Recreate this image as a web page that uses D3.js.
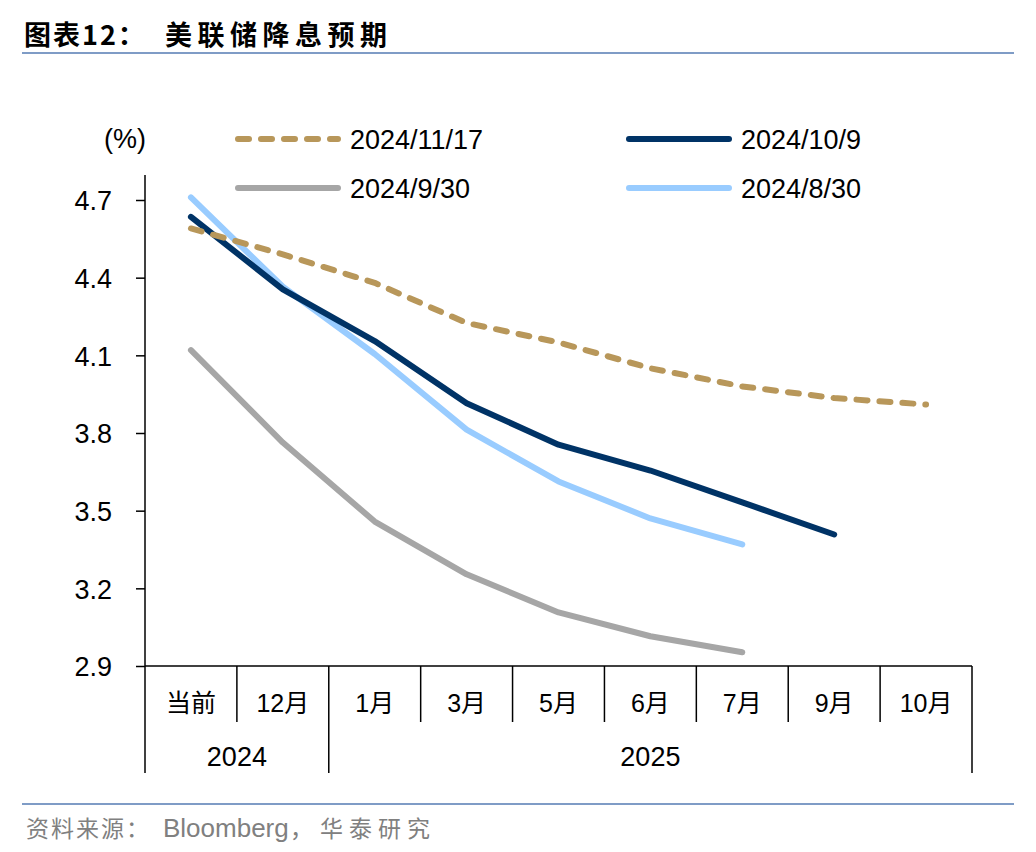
<!DOCTYPE html>
<html><head><meta charset="utf-8">
<script src="https://cdn.jsdelivr.net/npm/d3@7/dist/d3.min.js"></script>
<style>body{margin:0;background:#fff;} svg{display:block;}</style>
</head><body>
<svg id="c" width="1036" height="852"></svg>
<script>
const categories = ["当前","12月","1月","3月","5月","6月","7月","9月","10月"];
const years = [{label:"2024", from:0, to:2},{label:"2025", from:2, to:9}];
const yTicks = [2.9, 3.2, 3.5, 3.8, 4.1, 4.4, 4.7];
const s20241117 = [4.59, 4.49, 4.38, 4.225, 4.15, 4.05, 3.98, 3.935, 3.91];
const s20241009 = [4.635, 4.355, 4.155, 3.915, 3.755, 3.655, 3.532, 3.408];
const s20240930 = [4.12, 3.763, 3.458, 3.254, 3.107, 3.015, 2.953];
const s20240830 = [4.71, 4.365, 4.105, 3.813, 3.613, 3.47, 3.37];
const seriesNames = ["2024/11/17","2024/10/9","2024/9/30","2024/8/30"];

const series = [
  {name: seriesNames[0], values: s20241117, color:"#b8975a", dash:"11,12"},
  {name: seriesNames[1], values: s20241009, color:"#003366", dash:null},
  {name: seriesNames[2], values: s20240930, color:"#a6a6a6", dash:null},
  {name: seriesNames[3], values: s20240830, color:"#99ccff", dash:null}
];

const svg = d3.select("#c");
const L = 145, R = 972, T = 200, B = 666;
const x = d3.scaleBand().domain(categories).range([L, R]);
const y = d3.scaleLinear().domain([2.9, 4.7]).range([B, T]);
const num = "'Liberation Sans', Arial, sans-serif";
const cjk = "'Liberation Sans','Noto Sans CJK SC', sans-serif";
const FS = 27;

// Title
svg.append("text").attr("x", 24).attr("y", 45).attr("font-family", "'Noto Sans CJK SC', sans-serif")
  .attr("font-weight", "bold").attr("font-size", 27).attr("fill", "#000").attr("letter-spacing", 2)
  .text("图表12：");
svg.append("text").attr("x", 165).attr("y", 45).attr("font-family", "'Noto Sans CJK SC', sans-serif")
  .attr("font-weight", "bold").attr("font-size", 27).attr("fill", "#000").attr("letter-spacing", 5.5)
  .text("美联储降息预期");
svg.append("line").attr("x1", 22).attr("x2", 1014).attr("y1", 53).attr("y2", 53)
  .attr("stroke", "#7f9cc6").attr("stroke-width", 2);
svg.append("line").attr("x1", 22).attr("x2", 1014).attr("y1", 804).attr("y2", 804)
  .attr("stroke", "#7f9cc6").attr("stroke-width", 2);
svg.append("text").attr("x", 26).attr("y", 837).attr("font-family", "'Noto Sans CJK SC', sans-serif")
  .attr("font-size", 23).attr("fill", "#808080").attr("letter-spacing", 2).text("资料来源：");
svg.append("text").attr("x", 163).attr("y", 837).attr("font-family", num)
  .attr("font-size", 26).attr("fill", "#808080").text("Bloomberg");
svg.append("text").attr("x", 290).attr("y", 837).attr("font-family", "'Noto Sans CJK SC', sans-serif")
  .attr("font-size", 23).attr("fill", "#808080").text("，");
svg.append("text").attr("x", 320).attr("y", 837).attr("font-family", "'Noto Sans CJK SC', sans-serif")
  .attr("font-size", 23).attr("fill", "#808080").attr("letter-spacing", 6).text("华泰研究");

// Y axis
const yAxis = d3.axisLeft(y).tickValues(yTicks).tickFormat(d3.format(".1f")).tickSize(9).tickPadding(24);
const gy = svg.append("g").attr("transform", `translate(${L},0)`).call(yAxis);
gy.select(".domain").remove();
gy.selectAll(".tick line").attr("stroke", "#000").attr("stroke-width", 1.5);
gy.selectAll(".tick text").attr("font-family", num).attr("font-size", FS).attr("fill", "#000").attr("dy", "0.36em");
svg.append("line").attr("x1", L).attr("x2", L).attr("y1", 175).attr("y2", 773).attr("stroke", "#000").attr("stroke-width", 1.5);
svg.append("text").attr("x", 125).attr("y", 148).attr("text-anchor", "middle").attr("font-family", num)
  .attr("font-size", FS).text("(%)");

// X axis / category table
svg.append("line").attr("x1", L).attr("x2", R).attr("y1", B).attr("y2", B).attr("stroke", "#000").attr("stroke-width", 1.5);
categories.forEach((c, i) => {
  const xb = x(c);
  if (i > 0) {
    const isYear = years.some(yy => yy.from === i);
    svg.append("line").attr("x1", xb).attr("x2", xb).attr("y1", B).attr("y2", isYear ? 773 : 722)
      .attr("stroke", "#000").attr("stroke-width", 1.5);
  }
  svg.append("text").attr("x", xb + x.bandwidth()/2).attr("y", 712).attr("text-anchor", "middle")
    .attr("font-family", cjk).attr("font-size", 25).text(c);
});
svg.append("line").attr("x1", R).attr("x2", R).attr("y1", B).attr("y2", 773).attr("stroke", "#000").attr("stroke-width", 1.5);
years.forEach(yy => {
  const x0 = x(categories[yy.from]);
  const x1 = yy.to >= categories.length ? R : x(categories[yy.to]);
  svg.append("text").attr("x", (x0 + x1)/2).attr("y", 766).attr("text-anchor", "middle")
    .attr("font-family", num).attr("font-size", FS).text(yy.label);
});

// Lines
const line = d3.line().x((d, i) => x(categories[i]) + x.bandwidth()/2).y(d => y(d));
const drawOrder = [2, 3, 1, 0];
drawOrder.forEach(k => {
  const s = series[k];
  const p = svg.append("path").datum(s.values).attr("d", line).attr("fill", "none")
    .attr("stroke", s.color).attr("stroke-width", 6).attr("stroke-linecap", "round").attr("stroke-linejoin", "round");
  if (s.dash) p.attr("stroke-dasharray", s.dash);
});

// Legend
const legendPos = [[235, 139], [626, 139], [235, 188], [626, 188]];
series.forEach((s, k) => {
  const [lx, ly] = legendPos[k];
  const l = svg.append("line").attr("x1", lx + 3).attr("x2", lx + 103).attr("y1", ly).attr("y2", ly)
    .attr("stroke", s.color).attr("stroke-width", 6).attr("stroke-linecap", "round");
  if (s.dash) l.attr("stroke-dasharray", s.dash);
  svg.append("text").attr("x", lx + 115).attr("y", ly + 9.5).attr("font-family", num)
    .attr("font-size", FS).text(s.name);
});
</script>
</body></html>
